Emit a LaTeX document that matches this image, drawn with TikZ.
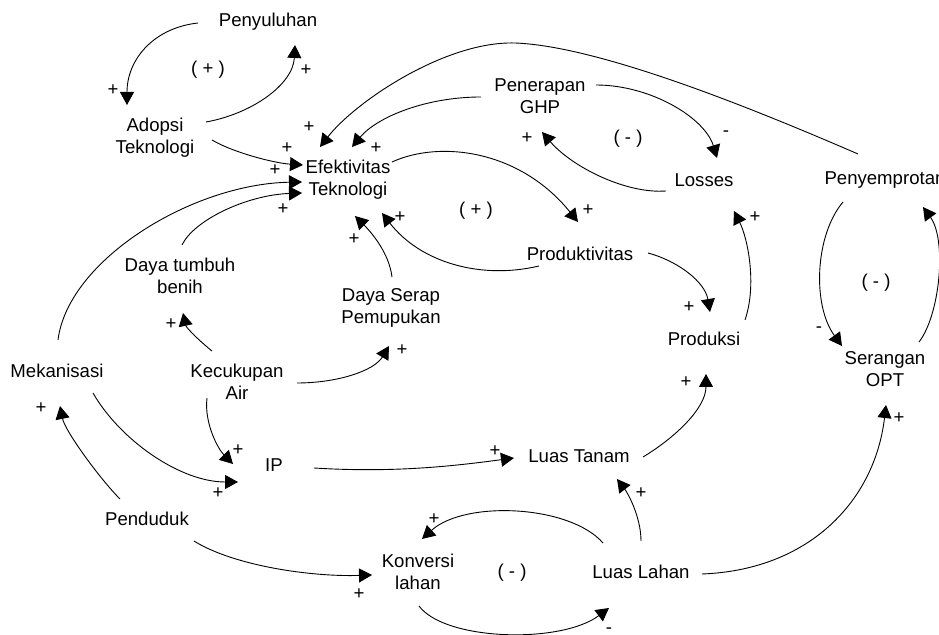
\documentclass[tikz,border=0pt]{standalone}
\usepackage{fontspec}
\setmainfont{Liberation Sans}
\usetikzlibrary{arrows.meta,calc}
\begin{document}
\begin{tikzpicture}[x=0.5pt,y=-0.5pt]
		\tikzset{var/.style = {align=center, inner sep=0pt, font=\fontsize{9.3}{11}\selectfont}}
		\tikzset{sign/.style = {inner sep=0pt, font=\fontsize{9.3}{11}\selectfont}}
		\tikzset{link/.style = {line width=0.45pt, -{Triangle[length=6.5pt,width=7pt]}}}
		\useasboundingbox (0,0) rectangle (939,635);

		\node[var] (Penyuluhan) at (268,22) {Penyuluhan};
		\node[var] (Adopsi) at (155,138) {Adopsi\\Teknologi};
		\node[var] (Efektivitas) at (348,180) {Efektivitas\\Teknologi};
		\node[var] (GHP) at (540,96) {Penerapan\\GHP};
		\node[var] (Losses) at (704,180) {Losses};
		\node[var] (Semprot) at (885,180) {Penyemprotan};
		\node[var] (Produktivitas) at (580,254) {Produktivitas};
		\node[var] (Produksi) at (704,339) {Produksi};
		\node[var] (OPT) at (885,369) {Serangan\\OPT};
		\node[var] (Benih) at (180,276) {Daya tumbuh\\benih};
		\node[var] (Serap) at (391,308) {Daya Serap\\Pemupukan};
		\node[var] (Mekanisasi) at (57,371) {Mekanisasi};
		\node[var] (Air) at (237,382) {Kecukupan\\Air};
		\node[var] (IP) at (274,465) {IP};
		\node[var] (Tanam) at (579,456) {Luas Tanam};
		\node[var] (Penduduk) at (147,519) {Penduduk};
		\node[var] (Konversi) at (418,572) {Konversi\\lahan};
		\node[var] (Lahan) at (641,572) {Luas Lahan};

		\node[sign] (L_1) at (208,70) {( + )};
		\node[sign] (L_2) at (628,139) {( - )};
		\node[sign] (L_3) at (476,211) {( + )};
		\node[sign] (L_4) at (876,283) {( - )};
		\node[sign] (L_5) at (512,573) {( - )};


		\draw[link] ($(Penyuluhan)+(-70,1)$) .. controls +(-45,5) and +(0,-45) .. ($(Adopsi)+(-28,-33)$);
		\draw[link] ($(Adopsi)+(51,-16)$) .. controls +(45,-8) and +(-2,40) .. ($(Penyuluhan)+(27,23)$);
		\draw[link] ($(Adopsi)+(57,2)$) .. controls +(20,12) and +(-30,-2) .. ($(Efektivitas)+(-45,-15)$);
		\draw[link] ($(Semprot)+(-27,-26)$) .. controls +(-120,-52) and +(80,3) .. (515,43) .. controls +(-70,-2) and +(35,-45) .. ($(Efektivitas)+(-28,-33)$);
		\draw[link] ($(GHP)+(-59,1)$) .. controls +(-55,0) and +(25,-30) .. ($(Efektivitas)+(4,-33)$);
		\draw[link] ($(GHP)+(56,-11)$) .. controls +(55,0) and +(-12,-40) .. ($(Losses)+(13,-22)$);
		\draw[link] ($(Losses)+(-38,11)$) .. controls +(-40,3) and +(30,35) .. ($(GHP)+(2,36)$);
		\draw[link] ($(Efektivitas)+(44,-18)$) .. controls +(48,-22) and +(-58,-72) .. ($(Produktivitas)+(-2,-32)$);
		\draw[link] ($(Produktivitas)+(-41,12)$) .. controls +(-59,14) and +(38,49) .. ($(Efektivitas)+(34,33)$);
		\draw[link] ($(Produktivitas)+(68,-1)$) .. controls +(30,8) and +(-5,-30) .. ($(Produksi)+(6,-27)$);
		\draw[link] ($(Produksi)+(41,-19)$) .. controls +(12,-35) and +(14,28) .. ($(Losses)+(30,31)$);
		\draw[link] ($(Tanam)+(64,1)$) .. controls +(30,-18) and +(0,35) .. ($(Produksi)+(2,35)$);
		\draw[link] ($(IP)+(40,3)$) .. controls +(80,5) and +(-60,8) .. ($(Tanam)+(-65,2)$);
		\draw[link] ($(Lahan)+(0,-31)$) .. controls +(0,-25) and +(10,13) .. ($(Tanam)+(38,23)$);
		\draw[link] ($(Lahan)+(-38,-29)$) .. controls +(-33,-38) and +(43,-39) .. ($(Konversi)+(4,-33)$);
		\draw[link] ($(Konversi)+(1,34)$) .. controls +(26,35) and +(-48,36) .. ($(Lahan)+(-32,36)$);
		\draw[link] ($(Lahan)+(61,2)$) .. controls +(108,-4) and +(-11,95) .. ($(OPT)+(1,36)$);
		\draw[link] ($(Semprot)+(-42,22)$) .. controls +(-28,33) and +(-30,-41) .. ($(OPT)+(-43,-23)$);
		\draw[link] ($(OPT)+(34,-27)$) .. controls +(21,-27) and +(24,33) .. ($(Semprot)+(38,27)$);
		\draw[link] ($(Mekanisasi)+(1,-31)$) .. controls +(10,-80) and +(-110,2) .. ($(Efektivitas)+(-46,2)$);
		\draw[link] ($(Benih)+(2,-31)$) .. controls +(12,-25) and +(-55,2) .. ($(Efektivitas)+(-46,13)$);
		\draw[link] ($(Serap)+(1,-31)$) .. controls +(-3,-25) and +(15,15) .. ($(Efektivitas)+(7,36)$);
		\draw[link] ($(Air)+(-25,-31)$) .. controls +(-15,-12) and +(3,14) .. ($(Benih)+(3,37)$);
		\draw[link] ($(Air)+(60,1)$) .. controls +(40,0) and +(-15,25) .. ($(Serap)+(-2,38)$);
		\draw[link] ($(Air)+(-30,16)$) .. controls +(-3,25) and +(-15,-15) .. ($(IP)+(-41,-1)$);
		\draw[link] ($(Mekanisasi)+(36,22)$) .. controls +(27,47) and +(-58,0) .. ($(IP)+(-36,17)$);
		\draw[link] ($(Penduduk)+(-27,-20)$) .. controls +(-20,-20) and +(5,25) .. ($(Mekanisasi)+(3,35)$);
		\draw[link] ($(Penduduk)+(47,22)$) .. controls +(40,25) and +(-60,2) .. ($(Konversi)+(-46,3)$);


		\node[sign] (s_1) at (113,90) {+};
		\node[sign] (s_2) at (306,70) {+};
		\node[sign] (s_3) at (275,170) {+};
		\node[sign] (s_4) at (309,127) {+};
		\node[sign] (s_5) at (287,148) {+};
		\node[sign] (s_6) at (376,148) {+};
		\node[sign] (s_7) at (726,134) {-};
		\node[sign] (s_8) at (527,138) {+};
		\node[sign] (s_9) at (588,210) {+};
		\node[sign] (s_10) at (400,217) {+};
		\node[sign] (s_11) at (689,307) {+};
		\node[sign] (s_12) at (755,217) {+};
		\node[sign] (s_13) at (686,382) {+};
		\node[sign] (s_14) at (495,451) {+};
		\node[sign] (s_15) at (641,493) {+};
		\node[sign] (s_16) at (434,519) {+};
		\node[sign] (s_17) at (609,631) {-};
		\node[sign] (s_18) at (899,418) {+};
		\node[sign] (s_19) at (819,330) {-};
		\node[sign] (s_20) at (283,209) {+};
		\node[sign] (s_21) at (354,239) {+};
		\node[sign] (s_22) at (171,324) {+};
		\node[sign] (s_23) at (402,350) {+};
		\node[sign] (s_24) at (238,450) {+};
		\node[sign] (s_25) at (218,493) {+};
		\node[sign] (s_26) at (41,408) {+};
		\node[sign] (s_27) at (359,594) {+};

	\end{tikzpicture}
\end{document}
